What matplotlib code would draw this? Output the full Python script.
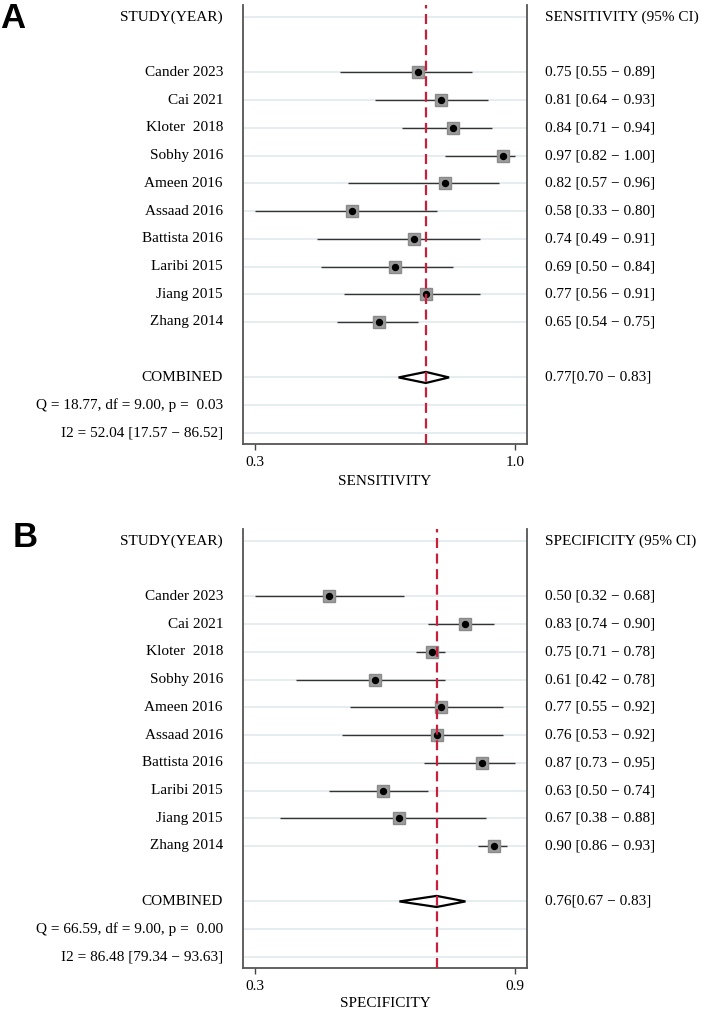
import matplotlib.pyplot as plt
from matplotlib.patches import Rectangle

plt.rcParams['font.family'] = ['Liberation Serif', 'DejaVu Serif']

studies = ['Cander 2023', 'Cai 2021', 'Kloter  2018', 'Sobhy 2016', 'Ameen 2016',
           'Assaad 2016', 'Battista 2016', 'Laribi 2015', 'Jiang 2015', 'Zhang 2014']

sens = [0.75, 0.81, 0.84, 0.97, 0.82, 0.58, 0.74, 0.69, 0.77, 0.65]
sens_lo = [0.55, 0.64, 0.71, 0.82, 0.57, 0.33, 0.49, 0.50, 0.56, 0.54]
sens_hi = [0.89, 0.93, 0.94, 1.00, 0.96, 0.80, 0.91, 0.84, 0.91, 0.75]
sens_comb = (0.77, 0.70, 0.83)
sens_q = 'Q = 18.77, df = 9.00, p =  0.03'
sens_i2 = 'I2 = 52.04 [17.57 \u2212 86.52]'

spec = [0.50, 0.83, 0.75, 0.61, 0.77, 0.76, 0.87, 0.63, 0.67, 0.90]
spec_lo = [0.32, 0.74, 0.71, 0.42, 0.55, 0.53, 0.73, 0.50, 0.38, 0.86]
spec_hi = [0.68, 0.90, 0.78, 0.78, 0.92, 0.92, 0.95, 0.74, 0.88, 0.93]
spec_comb = (0.76, 0.67, 0.83)
spec_q = 'Q = 66.59, df = 9.00, p =  0.00'
spec_i2 = 'I2 = 86.48 [79.34 \u2212 93.63]'

W, H = 702, 1009
fig = plt.figure(figsize=(W / 100, H / 100), dpi=100)


def forest(top_px, est, lo, hi, comb, qtxt, i2txt, name, letter, letter_xy, lpad):
    ax = fig.add_axes([243 / W, 1 - (top_px + 439) / H, 284 / W, 439 / H])
    rows = list(range(2, 2 + len(studies)))
    r_comb, r_q, r_i2 = 13, 14, 15

    # light grid lines on text rows
    for r in [0] + rows + [r_comb, r_q, r_i2]:
        ax.axhline(r, color='#e4ecef', lw=1.3, zorder=0)

    ax.hlines(rows, lo, hi, color='#333333', lw=1.0, zorder=2)
    ax.plot(est, rows, 's', color='#9c9c9c', ms=8.5, mec='#8a8a8a', zorder=3)
    ax.plot(est, rows, 'o', color='black', ms=4.3, zorder=4)

    c, cl, ch = comb
    ax.fill([cl, c, ch, c, cl], [r_comb, r_comb - 0.2, r_comb, r_comb + 0.2, r_comb],
            facecolor='white', edgecolor='black', lw=1.6, zorder=3)
    ax.axvline(c, color='#c8203c', lw=1.6, ls=(0, (4.5, 2.5)), zorder=5)

    xmin, xmax = min(lo), max(hi)
    pad = (xmax - xmin) * 0.0463
    ax.set_xlim(xmin - pad, xmax + pad)
    ax.set_ylim(15.4, -0.43)
    ax.set_xticks([xmin, xmax])
    ax.set_xticklabels(['%.1f' % xmin, '%.1f' % xmax], fontsize=11)
    ax.set_yticks([])
    ax.tick_params(axis='x', direction='out', length=4, width=1, color='#444444', pad=5)
    ax.set_xlabel(name, fontsize=11, labelpad=lpad)
    ax.spines['top'].set_visible(False)
    for s in ['left', 'right', 'bottom']:
        ax.spines[s].set_color('#555555')
        ax.spines[s].set_linewidth(1.3)

    tr = ax.get_yaxis_transform()
    xl = (223 - 243) / 284
    xr = (545 - 243) / 284
    kw = dict(transform=tr, fontsize=11, va='center', clip_on=False)
    ax.text(xl, 0, 'STUDY(YEAR)', ha='right', **kw)
    ax.text(xr, 0, name + ' (95% CI)', ha='left', **kw)
    for r, s, e, l, h in zip(rows, studies, est, lo, hi):
        ax.text(xl, r, s, ha='right', **kw)
        ax.text(xr, r, '%.2f [%.2f \u2212 %.2f]' % (e, l, h), ha='left', **kw)
    ax.text(xl, r_comb, 'COMBINED', ha='right', **kw)
    ax.text(xr, r_comb, '%.2f[%.2f \u2212 %.2f]' % comb, ha='left', **kw)
    ax.text(xl, r_q, qtxt, ha='right', **kw)
    ax.text(xl, r_i2, i2txt, ha='right', **kw)

    fig.text(letter_xy[0] / W, 1 - letter_xy[1] / H, letter, fontsize=25,
             fontweight='bold', family='Liberation Sans', va='top', ha='left')
    return ax


forest(5, sens, sens_lo, sens_hi, sens_comb, sens_q, sens_i2, 'SENSITIVITY', 'A', (0, 2), 4)
forest(529, spec, spec_lo, spec_hi, spec_comb, spec_q, spec_i2, 'SPECIFICITY', 'B', (13, 521), 2.5)

# panel A's axis title is cut off in the original
fig.patches.append(Rectangle((0, 1 - 512 / H), 1, 27.5 / H, transform=fig.transFigure,
                             facecolor='white', edgecolor='none', zorder=10))

fig.savefig('out.png', dpi=100)
